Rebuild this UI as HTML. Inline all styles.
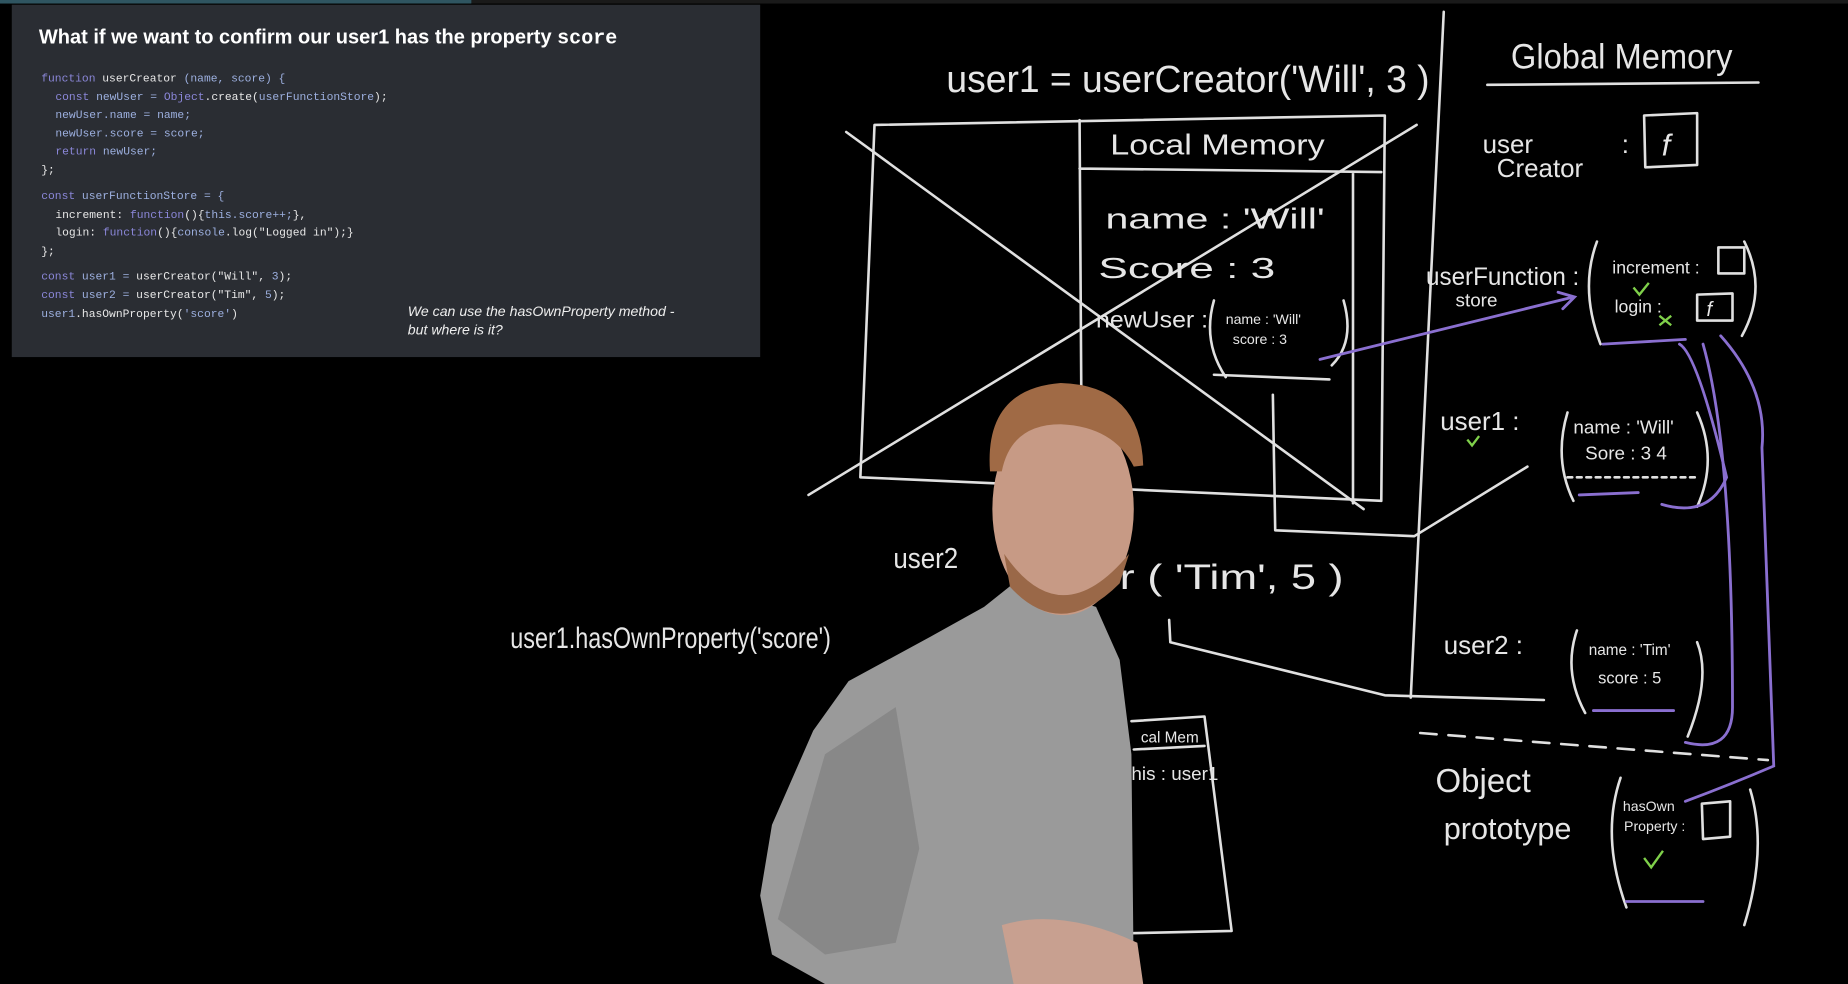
<!DOCTYPE html>
<html><head><meta charset="utf-8"><style>
html,body{margin:0;padding:0;background:#000;width:1848px;height:984px;overflow:hidden}
svg{display:block}
.c{font-family:"Liberation Sans",sans-serif;fill:#e6e6e6}
.ch{fill:none;stroke:#e0e0e0;stroke-width:2.2;stroke-linecap:round;stroke-linejoin:round}
.pu{fill:none;stroke:#8a6fd0;stroke-width:2.4;stroke-linecap:round}
.code{font-family:"Liberation Mono",monospace;font-size:9.6px;fill:#e8e8e8}
.k{fill:#8b87d9}
.s{fill:#9db0e0}
</style></head><body>
<svg width="1848" height="984" viewBox="0 0 1568 835" preserveAspectRatio="none">
<rect width="1568" height="835" fill="#000"/>
<rect x="0" y="0" width="400" height="3" fill="#2f5561"/>
<rect x="400" y="0" width="1168" height="3" fill="#1a1a1a"/>
<rect x="10" y="4" width="635" height="299" fill="#2a2d33"/>
<text x="33" y="37" style="font-family:'Liberation Sans',sans-serif;font-weight:bold;font-size:17px;fill:#fff">What if we want to confirm our user1 has the property <tspan style="font-family:'Liberation Mono',monospace">score</tspan></text>
<text class="code" x="35" y="69"><tspan class="k">function</tspan> userCreator <tspan class="s">(name, score) {</tspan></text>
<text class="code" x="47" y="85"><tspan class="k">const</tspan> <tspan class="s">newUser =</tspan> <tspan class="k">Object</tspan>.create(<tspan class="s">userFunctionStore</tspan>);</text>
<text class="code" x="47" y="100" ><tspan class="s">newUser.name = name;</tspan></text>
<text class="code" x="47" y="116"><tspan class="s">newUser.score = score;</tspan></text>
<text class="code" x="47" y="131"><tspan class="k">return</tspan> <tspan class="s">newUser;</tspan></text>
<text class="code" x="35" y="147">};</text>
<text class="code" x="35" y="169"><tspan class="k">const</tspan> <tspan class="s">userFunctionStore = {</tspan></text>
<text class="code" x="47" y="185">increment: <tspan class="k">function</tspan>(){<tspan class="s">this.score++;</tspan>},</text>
<text class="code" x="47" y="200">login: <tspan class="k">function</tspan>(){<tspan class="s">console</tspan>.log("Logged in");}</text>
<text class="code" x="35" y="216">};</text>
<text class="code" x="35" y="237"><tspan class="k">const</tspan> <tspan class="s">user1 =</tspan> userCreator("Will", <tspan class="s">3</tspan>);</text>
<text class="code" x="35" y="253"><tspan class="k">const</tspan> <tspan class="s">user2 =</tspan> userCreator("Tim", <tspan class="s">5</tspan>);</text>
<text class="code" x="35" y="269"><tspan class="s">user1</tspan>.hasOwnProperty(<tspan class="s">'score'</tspan>)</text>
<text x="346" y="268" style="font-family:'Liberation Sans',sans-serif;font-style:italic;font-size:12px;fill:#eee">We can use the hasOwnProperty method -</text>
<text x="346" y="284" style="font-family:'Liberation Sans',sans-serif;font-style:italic;font-size:12px;fill:#eee">but where is it?</text>

<text class="c" x="803" y="78" font-size="32" textLength="410" lengthAdjust="spacingAndGlyphs">user1 = userCreator('Will', 3 )</text>
<path class="ch" d="M1225 10 L1197 592"/>
<text class="c" x="1282" y="58" font-size="30" textLength="188" lengthAdjust="spacingAndGlyphs">Global Memory</text>
<path class="ch" d="M1262 72 L1492 70"/>
<path class="ch" d="M742 106 L1175 98 L1172 425 L730 405 Z"/>
<path class="ch" d="M916 102 L918 420 M916 143 L1172 146 M1148 146 L1148 427"/>
<text class="c" x="942" y="131" font-size="24" textLength="182" lengthAdjust="spacingAndGlyphs">Local Memory</text>
<path class="ch" d="M718 112 L1157 432 M686 420 L1202 106"/>
<text class="c" x="938" y="194" font-size="24" textLength="186" lengthAdjust="spacingAndGlyphs">name : 'Will'</text>
<text class="c" x="932" y="236" font-size="24" textLength="150" lengthAdjust="spacingAndGlyphs">Score : 3</text>
<text class="c" x="930" y="278" font-size="20" textLength="95" lengthAdjust="spacingAndGlyphs">newUser :</text>
<text class="c" x="1040" y="275" font-size="12">name : 'Will'</text>
<text class="c" x="1046" y="292" font-size="12">score : 3</text>
<path class="ch" d="M1140 255 Q1150 290 1130 310 M1030 255 Q1020 290 1040 320 M1030 318 L1128 322"/>
<path class="ch" d="M1080 335 L1082 450 L1200 455 L1296 396"/>
<text class="c" x="758" y="482" font-size="24" textLength="55" lengthAdjust="spacingAndGlyphs">user2</text>
<text class="c" x="950" y="500" font-size="30" textLength="190" lengthAdjust="spacingAndGlyphs">r ( 'Tim', 5 )</text>
<path class="ch" d="M992 526 L993 545 L1175 590 L1310 594"/>
<text class="c" x="433" y="550" font-size="25" textLength="272" lengthAdjust="spacingAndGlyphs">user1.hasOwnProperty('score')</text>
<path class="ch" d="M960 612 L1022 608 L1045 790 L955 792 M962 636 L1022 633"/>
<text class="c" x="968" y="630" font-size="13">cal Mem</text>
<text class="c" x="960" y="662" font-size="16">his : user1</text>

<text class="c" x="1258" y="130" font-size="22">user</text>
<text class="c" x="1270" y="150" font-size="22">Creator</text>
<text class="c" x="1376" y="130" font-size="22">:</text>
<path class="ch" d="M1395 98 L1440 96 L1440 140 L1396 142 Z"/>
<text class="c" x="1410" y="132" font-size="26" font-style="italic">f</text>
<text class="c" x="1210" y="242" font-size="21" textLength="130" lengthAdjust="spacingAndGlyphs">userFunction :</text>
<text class="c" x="1235" y="260" font-size="16">store</text>
<path class="ch" d="M1355 205 Q1340 245 1358 292 M1480 205 Q1500 245 1478 285"/>
<text class="c" x="1368" y="232" font-size="15">increment : </text>
<path class="ch" d="M1458 210 L1480 210 L1480 232 L1458 232 Z"/>
<text class="c" x="1370" y="265" font-size="15">login :</text>
<path class="ch" d="M1440 250 L1470 249 L1470 272 L1440 272 Z"/>
<text class="c" x="1448" y="268" font-size="17" font-style="italic">f</text>
<path d="M1386 244 l5 6 l8 -10" stroke="#7fd04a" stroke-width="2" fill="none"/>
<path d="M1408 268 l10 8 m0 -8 l-10 8" stroke="#7fd04a" stroke-width="2" fill="none"/>
<text class="c" x="1222" y="365" font-size="22">user1 :</text>
<path d="M1245 373 l4 5 l6 -8" stroke="#7fd04a" stroke-width="2" fill="none"/>
<path class="ch" d="M1330 350 Q1318 390 1335 425 M1440 350 Q1458 390 1440 430"/>
<text class="c" x="1335" y="368" font-size="16">name : 'Will'</text>
<text class="c" x="1345" y="390" font-size="16">Sore : 3 4</text>
<path class="ch" d="M1330 405 L1438 405" stroke-dasharray="4 4"/>
<text class="c" x="1225" y="555" font-size="22">user2 :</text>
<path class="ch" d="M1338 535 Q1326 570 1345 605 M1440 545 Q1452 575 1432 625"/>
<text class="c" x="1348" y="556" font-size="13">name : 'Tim'</text>
<text class="c" x="1356" y="580" font-size="14">score : 5</text>
<path class="ch" d="M1205 622 L1500 645" stroke-dasharray="14 10"/>
<text class="c" x="1218" y="672" font-size="28">Object</text>
<text class="c" x="1225" y="712" font-size="26">prototype</text>
<path class="ch" d="M1375 660 Q1358 710 1380 770 M1485 670 Q1500 720 1480 785"/>
<text class="c" x="1377" y="688" font-size="12">hasOwn</text>
<text class="c" x="1378" y="705" font-size="12">Property :</text>
<path class="ch" d="M1444 682 L1468 680 L1468 710 L1445 712 Z"/>
<path d="M1395 728 l6 8 l10 -14" stroke="#7fd04a" stroke-width="2" fill="none"/>
<path class="pu" d="M1120 305 L1335 252 M1322 248 l14 4 l-10 10"/>
<path class="pu" d="M1360 292 L1430 288 M1340 420 L1390 418 M1352 603 L1420 603 M1380 765 L1445 765"/>
<path class="pu" d="M1410 428 Q1450 440 1465 405 Q1440 300 1425 292"/>
<path class="pu" d="M1430 630 Q1470 640 1470 600 Q1470 380 1445 292"/>
<path class="pu" d="M1460 285 Q1500 330 1495 380 L1505 650 Q1470 665 1430 680"/>
<!-- person -->
<path d="M860 495 L930 515 L950 560 L960 640 L962 835 L700 835 L655 810 L645 760 L655 700 L690 620 L720 578 L790 540 L835 515 Z" fill="#9a9a9a"/>
<path d="M700 640 L760 600 L780 720 L760 800 L700 810 L660 780 Z" fill="#888"/>
<ellipse cx="902" cy="432" rx="60" ry="90" fill="#c79a85"/>
<path d="M840 400 Q835 330 900 325 Q968 327 970 395 L962 396 Q945 362 900 360 Q858 360 850 400 Z" fill="#a06a45"/>
<path d="M852 470 Q900 540 958 470 L950 495 Q900 545 857 498 Z" fill="#9a6848"/>
<path d="M850 785 Q900 770 965 800 L970 835 L860 835 Z" fill="#c8a090"/>
</svg>
</body></html>
